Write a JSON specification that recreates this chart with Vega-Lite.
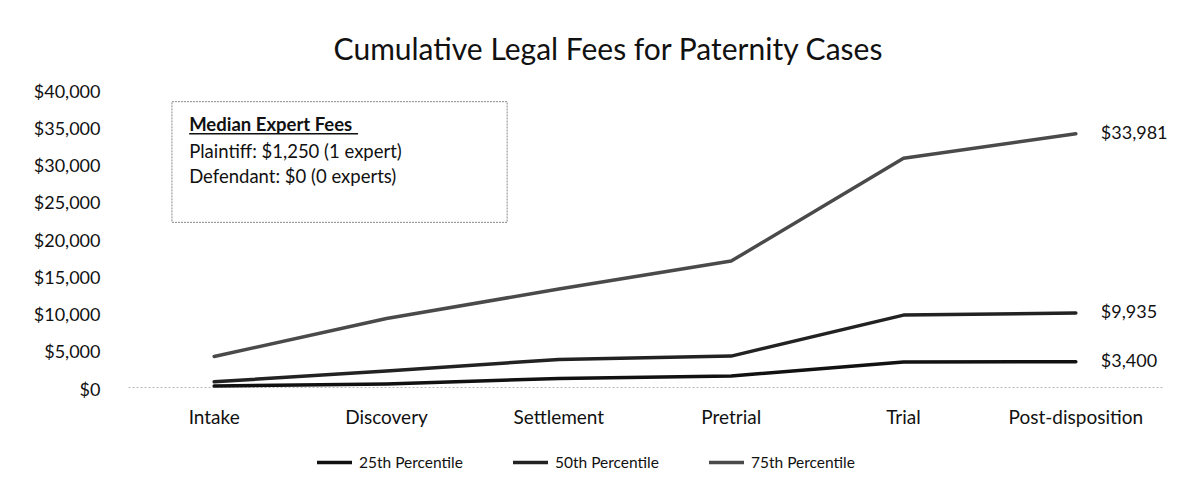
{
  "$schema": "https://vega.github.io/schema/vega-lite/v6.json",
  "width": 1034,
  "height": 298,
  "autosize": {"type": "none"},
  "padding": {"left": 128, "top": 89, "right": 31, "bottom": 99},
  "background": "white",
  "config": {
    "view": {"stroke": null},
    "font": "Lato",
    "text": {"font": "Lato"}
  },
  "title": {
    "text": "Cumulative Legal Fees for Paternity Cases",
    "font": "Lato",
    "fontSize": 30,
    "fontWeight": "normal",
    "color": "#111",
    "anchor": "middle",
    "frame": "group",
    "dx": -37,
    "offset": 17
  },
  "data": {
    "values": [
      {"stage": "Intake", "series": "25th Percentile", "value": 150},
      {"stage": "Discovery", "series": "25th Percentile", "value": 400},
      {"stage": "Settlement", "series": "25th Percentile", "value": 1150},
      {"stage": "Pretrial", "series": "25th Percentile", "value": 1480},
      {"stage": "Trial", "series": "25th Percentile", "value": 3350},
      {"stage": "Post-disposition", "series": "25th Percentile", "value": 3400},
      {"stage": "Intake", "series": "50th Percentile", "value": 700},
      {"stage": "Discovery", "series": "50th Percentile", "value": 2150},
      {"stage": "Settlement", "series": "50th Percentile", "value": 3700},
      {"stage": "Pretrial", "series": "50th Percentile", "value": 4150},
      {"stage": "Trial", "series": "50th Percentile", "value": 9650},
      {"stage": "Post-disposition", "series": "50th Percentile", "value": 9935},
      {"stage": "Intake", "series": "75th Percentile", "value": 4100},
      {"stage": "Discovery", "series": "75th Percentile", "value": 9200},
      {"stage": "Settlement", "series": "75th Percentile", "value": 13150},
      {"stage": "Pretrial", "series": "75th Percentile", "value": 16900},
      {"stage": "Trial", "series": "75th Percentile", "value": 30700},
      {"stage": "Post-disposition", "series": "75th Percentile", "value": 33981}
    ]
  },
  "layer": [
    {
      "mark": {"type": "line", "strokeCap": "round", "strokeJoin": "round"},
      "encoding": {
        "x": {
          "field": "stage",
          "type": "nominal",
          "sort": ["Intake", "Discovery", "Settlement", "Pretrial", "Trial", "Post-disposition"],
          "scale": {"type": "band", "paddingInner": 0, "paddingOuter": 0},
          "axis": {
            "title": null,
            "labelAngle": 0,
            "labelFont": "Lato",
            "labelFontSize": 19,
            "labelColor": "#111",
            "labelPadding": 21,
            "ticks": false,
            "domainColor": "#bbb",
            "domainDash": [2, 2],
            "domainWidth": 1,
            "grid": false
          }
        },
        "y": {
          "field": "value",
          "type": "quantitative",
          "scale": {"domain": [0, 40000], "nice": false},
          "axis": {
            "title": null,
            "values": [0, 5000, 10000, 15000, 20000, 25000, 30000, 35000, 40000],
            "tickCount": 12,
            "format": "$,.0f",
            "labelFont": "Lato",
            "labelFontSize": 18,
            "labelColor": "#111",
            "labelPadding": 28,
            "labelOffset": 3,
            "labelOverlap": false,
            "ticks": false,
            "domain": false,
            "grid": false
          }
        },
        "color": {
          "field": "series",
          "type": "nominal",
          "scale": {"domain": ["25th Percentile", "50th Percentile", "75th Percentile"], "range": ["#111111", "#222222", "#4a4a4a"]},
          "legend": {
            "title": null,
            "orient": "none",
            "legendX": 187,
            "legendY": 354,
            "direction": "horizontal",
            "symbolType": "stroke",
            "symbolSize": 1225,
            "symbolStrokeWidth": 3,
            "labelFont": "Lato",
            "labelFontSize": 15.5,
            "labelColor": "#111",
            "labelOffset": 5,
            "columnPadding": 43
          }
        },
        "strokeWidth": {
          "field": "series",
          "type": "nominal",
          "scale": {"domain": ["25th Percentile", "50th Percentile", "75th Percentile"], "range": [3.5, 3.5, 2.6]},
          "legend": null
        }
      }
    },
    {
      "data": {"values": [{}]},
      "mark": {"type": "rect", "fill": "white", "fillOpacity": 0, "stroke": "#888", "strokeWidth": 1, "strokeDash": [2, 1]},
      "encoding": {
        "x": {"datum": "Intake", "type": "nominal", "bandPosition": 0.255},
        "x2": {"datum": "Settlement", "bandPosition": 0.2},
        "y": {"datum": 38300, "type": "quantitative"},
        "y2": {"datum": 22100}
      }
    },
    {
      "data": {"values": [{}]},
      "mark": {"type": "text", "align": "left", "baseline": "middle", "fontSize": 18.5, "fontWeight": "bold", "color": "#111"},
      "encoding": {
        "x": {"datum": "Intake", "type": "nominal", "bandPosition": 0.355},
        "y": {"datum": 35200, "type": "quantitative"},
        "text": {"value": "Median Expert Fees"}
      }
    },
    {
      "data": {"values": [{}]},
      "mark": {"type": "rule", "color": "#111", "strokeWidth": 1.5},
      "encoding": {
        "x": {"datum": "Intake", "type": "nominal", "bandPosition": 0.355},
        "x2": {"datum": "Discovery", "bandPosition": 0.335},
        "y": {"datum": 34000, "type": "quantitative"}
      }
    },
    {
      "data": {"values": [{}]},
      "mark": {"type": "text", "align": "left", "baseline": "middle", "fontSize": 18.5, "color": "#111"},
      "encoding": {
        "x": {"datum": "Intake", "type": "nominal", "bandPosition": 0.355},
        "y": {"datum": 31600, "type": "quantitative"},
        "text": {"value": "Plaintiff: $1,250 (1 expert)"}
      }
    },
    {
      "data": {"values": [{}]},
      "mark": {"type": "text", "align": "left", "baseline": "middle", "fontSize": 18.5, "color": "#111"},
      "encoding": {
        "x": {"datum": "Intake", "type": "nominal", "bandPosition": 0.355},
        "y": {"datum": 28200, "type": "quantitative"},
        "text": {"value": "Defendant: $0 (0 experts)"}
      }
    },
    {
      "transform": [{"filter": "datum.stage === 'Post-disposition'"}],
      "mark": {"type": "text", "align": "left", "baseline": "middle", "dx": 25, "fontSize": 18, "color": "#111"},
      "encoding": {
        "x": {"field": "stage", "type": "nominal", "sort": ["Intake", "Discovery", "Settlement", "Pretrial", "Trial", "Post-disposition"]},
        "y": {"field": "value", "type": "quantitative"},
        "text": {"field": "value", "type": "quantitative", "format": "$,.0f"}
      }
    }
  ]
}
